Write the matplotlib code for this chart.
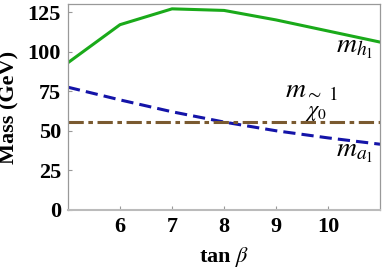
import matplotlib.pyplot as plt

plt.rcParams['font.family'] = 'Liberation Serif'
plt.rcParams['mathtext.fontset'] = 'stix'

# data
tanb = [5, 6, 7, 8, 9, 10, 11]
m_h1 = [93, 117, 127, 126, 120, 113, 106]
m_a1 = [77.5, 69.5, 62, 55.5, 50, 45.5, 41.5]
m_chi = [55.5, 55.5, 55.5, 55.5, 55.5, 55.5, 55.5]

xticks = [6, 7, 8, 9, 10]
yticks = [0, 25, 50, 75, 100, 125]

fig = plt.figure(figsize=(3.82, 2.73), dpi=100)
ax = fig.add_axes([0.178, 0.231, 0.817, 0.754])

ax.plot(tanb, m_h1, color='#1aaa1a', lw=2.2)
ax.plot(tanb, m_a1, color='#1414a8', lw=2.2, ls=(0, (4, 2)))
ax.plot(tanb, m_chi, color='#7a5a30', lw=2.2, ls=(0, (5, 1.5, 1.5, 1.5)))

# curve labels
ax.text(10.15, 102, r'$m_{h_1}$', fontsize=20, ha='left', va='center')
ax.text(10.15, 36, r'$m_{a_1}$', fontsize=20, ha='left', va='center')
ax.text(9.18, 75, r'$m_{\sim\ 1}$', fontsize=20, ha='left', va='center')
ax.text(9.56, 61, r'$\chi_0$', fontsize=16, ha='left', va='center')

ax.set_xlim(5, 11)
ax.set_ylim(0, 130)
ax.set_xticks(xticks)
ax.set_yticks(yticks)

for s in ax.spines.values():
    s.set_color('#999999')
    s.set_linewidth(0.9)
ax.spines['bottom'].set_color('#bbbbbb')
ax.spines['bottom'].set_linewidth(1.5)

ax.tick_params(direction='in', length=3, color='#999999', labelsize=16, pad=5)
for lab in ax.get_xticklabels() + ax.get_yticklabels():
    lab.set_fontweight('bold')

ax.set_xlabel(r'tan $\beta$', fontsize=16, fontweight='bold', labelpad=6)
ax.set_ylabel('Mass (GeV)', fontsize=16, fontweight='bold', labelpad=6)

plt.savefig('out.png', dpi=100)
